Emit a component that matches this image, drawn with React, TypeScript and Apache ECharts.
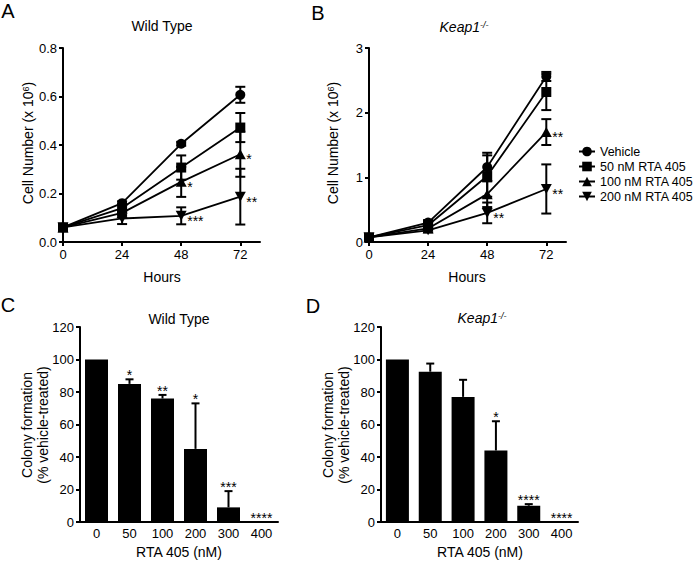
import React, { useEffect, useRef } from 'react';
import * as echarts from 'echarts';

const FONT = '"Liberation Sans", Arial, Helvetica, sans-serif';

// ---- Panels A & B: cell number over time ----
const hours = [0, 24, 48, 72];
const hourTicks = [0, 24, 48, 72];
const treatments = ['Vehicle', '50 nM RTA 405', '100 nM RTA 405', '200 nM RTA 405'];
const symbols = ['circle', 'rect', 'triangle', 'path://M0,0L10,0L5,9Z'];

// Wild type (panel A), x 10^6 cells
const wtVehicle = [0.06, 0.16, 0.405, 0.607];
const wtVehicleErr = [0, 0.008, 0.008, 0.033];
const wt50 = [0.06, 0.14, 0.307, 0.472];
const wt50Err = [0, 0.012, 0.05, 0.06];
const wt100 = [0.06, 0.12, 0.248, 0.362];
const wt100Err = [0, 0.012, 0.062, 0.093];
const wt200 = [0.06, 0.097, 0.108, 0.187];
const wt200Err = [0, 0.023, 0.035, 0.115];
const wtVehicleSig = ['', '', '', ''];
const wt50Sig = ['', '', '', ''];
const wt100Sig = ['', '', '*', '*'];
const wt200Sig = ['', '', '***', '**'];

// Keap1-/- (panel B), x 10^6 cells
const koVehicle = [0.07, 0.3, 1.16, 2.56];
const koVehicleErr = [0, 0.04, 0.22, 0.07];
const ko50 = [0.07, 0.26, 1.02, 2.32];
const ko50Err = [0, 0.04, 0.32, 0.28];
const ko100 = [0.07, 0.21, 0.74, 1.7];
const ko100Err = [0, 0.03, 0.2, 0.2];
const ko200 = [0.07, 0.18, 0.45, 0.82];
const ko200Err = [0, 0.03, 0.16, 0.38];
const koVehicleSig = ['', '', '', ''];
const ko50Sig = ['', '', '', ''];
const ko100Sig = ['', '', '', '**'];
const ko200Sig = ['', '', '**', '**'];

// ---- Panels C & D: colony formation ----
const doses = ['0', '50', '100', '200', '300', '400'];
const colonyWT = [100, 85, 76, 45, 9, 0];
const colonyWTErr = [0, 2.8, 2.2, 28, 10, 0];
const colonyWTSig = ['', '*', '**', '*', '***', '****'];
const colonyKO = [100, 92.5, 77, 44, 10, 0];
const colonyKOErr = [0, 5, 10.5, 18, 1, 0];
const colonyKOSig = ['', '', '', '*', '****', '****'];

const axisLineStyle = { show: true, lineStyle: { color: '#000', width: 2 } };
const axisTickStyle = { show: true, length: 4, lineStyle: { color: '#000', width: 2 } };
const axisLabelStyle = { color: '#000', fontSize: 13, fontFamily: FONT, margin: 6 };

function lineErrSeries(axis: number, vals: number[], errs: number[], sig: string[]) {
  return {
    type: 'custom',
    xAxisIndex: axis,
    yAxisIndex: axis,
    z: 2,
    silent: true,
    data: hours.map((h, i) => [h, vals[i], errs[i]]),
    renderItem: (params: any, api: any) => {
      const x = api.value(0);
      const y = api.value(1);
      const e = api.value(2);
      const p = api.coord([x, y]);
      const children: any[] = [];
      const st = { stroke: '#000', lineWidth: 2 };
      if (e > 0) {
        const t = api.coord([x, y + e]);
        const b = api.coord([x, y - e]);
        children.push({ type: 'line', shape: { x1: t[0], y1: t[1], x2: b[0], y2: b[1] }, style: st });
        children.push({ type: 'line', shape: { x1: t[0] - 5, y1: t[1], x2: t[0] + 5, y2: t[1] }, style: st });
        children.push({ type: 'line', shape: { x1: b[0] - 5, y1: b[1], x2: b[0] + 5, y2: b[1] }, style: st });
      }
      const s = sig[params.dataIndex];
      if (s) {
        children.push({
          type: 'text',
          x: p[0] + 6,
          y: p[1] + 5,
          style: { text: s, fontSize: 14, fontWeight: 'normal', fontFamily: FONT, fill: '#000', align: 'left', verticalAlign: 'middle' },
        });
      }
      return { type: 'group', children };
    },
  };
}

function lineSeries(axis: number, idx: number, vals: number[]) {
  return {
    type: 'line',
    name: treatments[idx],
    xAxisIndex: axis,
    yAxisIndex: axis,
    z: 3,
    data: hours.map((h, i) => [h, vals[i]]),
    symbol: symbols[idx],
    symbolSize: idx >= 2 ? [11, 10] : 10,
    lineStyle: { color: '#000', width: 1.8 },
    itemStyle: { color: '#000' },
  };
}

function barErrSeries(axis: number, vals: number[], errs: number[], sig: string[]) {
  return {
    type: 'custom',
    xAxisIndex: axis,
    yAxisIndex: axis,
    z: 3,
    silent: true,
    data: vals.map((v, i) => [i, v, errs[i]]),
    renderItem: (params: any, api: any) => {
      const i = api.value(0);
      const v = api.value(1);
      const e = api.value(2);
      const base = api.coord([i, v]);
      const top = api.coord([i, v + e]);
      const children: any[] = [];
      const st = { stroke: '#000', lineWidth: 2 };
      if (e > 0) {
        children.push({ type: 'line', shape: { x1: base[0], y1: base[1], x2: top[0], y2: top[1] }, style: st });
        children.push({ type: 'line', shape: { x1: top[0] - 4, y1: top[1], x2: top[0] + 4, y2: top[1] }, style: st });
      }
      const s = sig[params.dataIndex];
      if (s) {
        children.push({
          type: 'text',
          x: top[0],
          y: top[1] - 4,
          style: { text: s, fontSize: 14, fontWeight: 'normal', fontFamily: FONT, fill: '#000', align: 'center', verticalAlign: 'middle' },
        });
      }
      return { type: 'group', children };
    },
  };
}

const keapRich = {
  i: { fontSize: 14, fontStyle: 'italic', fontWeight: 'normal', fontFamily: FONT, fill: '#000' },
  s: { fontSize: 9, fontStyle: 'italic', fontWeight: 'normal', fontFamily: FONT, fill: '#000', verticalAlign: 'top' },
};
const cellRich = {
  a: { fontSize: 14, fontWeight: 'normal', fontFamily: FONT, fill: '#000' },
  s: { fontSize: 9, fontWeight: 'normal', fontFamily: FONT, fill: '#000', verticalAlign: 'top' },
};

function txt(x: number, y: number, text: string, size = 14, extra: any = {}) {
  return {
    type: 'text',
    x,
    y,
    ...extra,
    style: {
      text, fontSize: size, fontWeight: 'normal', fontFamily: FONT, fill: '#000',
      align: 'center', verticalAlign: 'middle', ...(extra.style || {}),
    },
  };
}

export default function App() {
  const ref = useRef<HTMLDivElement>(null);
  useEffect(() => {
    if (!ref.current) return;
    const chart = echarts.init(ref.current, null, { renderer: 'svg' });
    const option: any = {
      animation: false,
      backgroundColor: '#fff',
      grid: [
        { left: 63, top: 48, width: 197, height: 194 },
        { left: 369, top: 48, width: 197, height: 194 },
        { left: 80, top: 327, width: 198, height: 195 },
        { left: 381, top: 327, width: 197, height: 195 },
      ],
      xAxis: [
        {
          type: 'value', gridIndex: 0, min: 0, max: 80,
          axisLine: axisLineStyle,
          axisTick: { ...axisTickStyle, customValues: hourTicks },
          axisLabel: { ...axisLabelStyle, customValues: hourTicks },
          splitLine: { show: false },
        },
        {
          type: 'value', gridIndex: 1, min: 0, max: 80,
          axisLine: axisLineStyle,
          axisTick: { ...axisTickStyle, customValues: hourTicks },
          axisLabel: { ...axisLabelStyle, customValues: hourTicks },
          splitLine: { show: false },
        },
        {
          type: 'category', gridIndex: 2, data: doses,
          axisLine: axisLineStyle,
          axisTick: { show: false },
          axisLabel: { ...axisLabelStyle, margin: 5 },
        },
        {
          type: 'category', gridIndex: 3, data: doses,
          axisLine: axisLineStyle,
          axisTick: { show: false },
          axisLabel: { ...axisLabelStyle, margin: 5 },
        },
      ],
      yAxis: [
        {
          type: 'value', gridIndex: 0, min: 0, max: 0.8, interval: 0.2,
          axisLine: axisLineStyle, axisTick: axisTickStyle,
          axisLabel: { ...axisLabelStyle, formatter: (v: number) => v.toFixed(1) },
          splitLine: { show: false },
        },
        {
          type: 'value', gridIndex: 1, min: 0, max: 3, interval: 1,
          axisLine: axisLineStyle, axisTick: axisTickStyle, axisLabel: axisLabelStyle,
          splitLine: { show: false },
        },
        {
          type: 'value', gridIndex: 2, min: 0, max: 120, interval: 20,
          axisLine: axisLineStyle, axisTick: axisTickStyle, axisLabel: axisLabelStyle,
          splitLine: { show: false },
        },
        {
          type: 'value', gridIndex: 3, min: 0, max: 120, interval: 20,
          axisLine: axisLineStyle, axisTick: axisTickStyle, axisLabel: axisLabelStyle,
          splitLine: { show: false },
        },
      ],
      legend: {
        orient: 'vertical',
        left: 573,
        top: 140,
        itemWidth: 16,
        itemHeight: 12,
        itemGap: 2,
        selectedMode: false,
        textStyle: { fontSize: 12.5, fontFamily: FONT, color: '#000' },
        data: treatments,
      },
      series: [
        lineErrSeries(0, wtVehicle, wtVehicleErr, wtVehicleSig),
        lineErrSeries(0, wt50, wt50Err, wt50Sig),
        lineErrSeries(0, wt100, wt100Err, wt100Sig),
        lineErrSeries(0, wt200, wt200Err, wt200Sig),
        lineSeries(0, 0, wtVehicle),
        lineSeries(0, 1, wt50),
        lineSeries(0, 2, wt100),
        lineSeries(0, 3, wt200),
        lineErrSeries(1, koVehicle, koVehicleErr, koVehicleSig),
        lineErrSeries(1, ko50, ko50Err, ko50Sig),
        lineErrSeries(1, ko100, ko100Err, ko100Sig),
        lineErrSeries(1, ko200, ko200Err, ko200Sig),
        lineSeries(1, 0, koVehicle),
        lineSeries(1, 1, ko50),
        lineSeries(1, 2, ko100),
        lineSeries(1, 3, ko200),
        {
          type: 'bar', xAxisIndex: 2, yAxisIndex: 2, data: colonyWT, barWidth: 23,
          itemStyle: { color: '#000' }, silent: true,
        },
        barErrSeries(2, colonyWT, colonyWTErr, colonyWTSig),
        {
          type: 'bar', xAxisIndex: 3, yAxisIndex: 3, data: colonyKO, barWidth: 23,
          itemStyle: { color: '#000' }, silent: true,
        },
        barErrSeries(3, colonyKO, colonyKOErr, colonyKOSig),
      ],
      graphic: [
        txt(8, 11, 'A', 20),
        txt(318, 13, 'B', 20),
        txt(8, 305, 'C', 20),
        txt(313, 306, 'D', 20),
        txt(162, 26, 'Wild Type'),
        {
          type: 'text', x: 464, y: 27,
          style: { text: '{i|Keap1}{s|-/-}', rich: keapRich, fontFamily: FONT, fontStyle: 'italic', fontWeight: 'normal', fill: '#000', align: 'center', verticalAlign: 'middle' },
        },
        txt(179, 319, 'Wild Type'),
        {
          type: 'text', x: 482, y: 318,
          style: { text: '{i|Keap1}{s|-/-}', rich: keapRich, fontFamily: FONT, fontStyle: 'italic', fontWeight: 'normal', fill: '#000', align: 'center', verticalAlign: 'middle' },
        },
        txt(162, 277, 'Hours'),
        txt(467, 277, 'Hours'),
        txt(179, 552, 'RTA 405 (nM)'),
        txt(480, 552, 'RTA 405 (nM)'),
        {
          type: 'text', x: 28, y: 143, rotation: Math.PI / 2,
          style: {
            text: '{a|Cell Number (x 10}{s|6}{a|)}', rich: cellRich,
            fontWeight: 'normal', fill: '#000', align: 'center', verticalAlign: 'middle',
          },
        },
        {
          type: 'text', x: 333, y: 143, rotation: Math.PI / 2,
          style: {
            text: '{a|Cell Number (x 10}{s|6}{a|)}', rich: cellRich,
            fontWeight: 'normal', fill: '#000', align: 'center', verticalAlign: 'middle',
          },
        },
        txt(35, 425, 'Colony formation\n(% vehicle-treated)', 14, { rotation: Math.PI / 2, style: { lineHeight: 16 } }),
        txt(336, 425, 'Colony formation\n(% vehicle-treated)', 14, { rotation: Math.PI / 2, style: { lineHeight: 16 } }),
      ],
    };
    chart.setOption(option);
    return () => chart.dispose();
  }, []);
  return (
    <div
      ref={ref}
      style={{ position: 'absolute', left: 0, top: 0, width: 696, height: 561, background: '#fff' }}
    />
  );
}
